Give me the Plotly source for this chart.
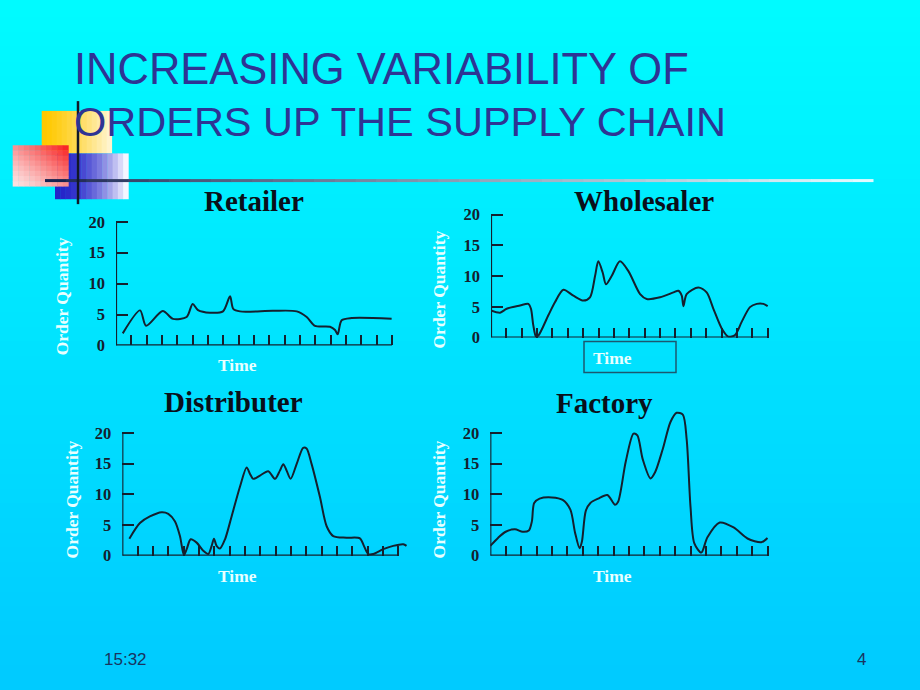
import plotly.graph_objects as go

W, H = 920, 690

# ---------------- data ----------------
retailer_t = [0.44, 1.57, 1.96, 3.05, 3.72, 4.61, 5.0, 5.35, 6.13, 6.98, 7.44, 7.65, 8.09,
              10.24, 11.79, 12.44, 12.98, 13.96, 14.29, 14.46, 14.72, 15.38, 17.98]
retailer_q = [1.95, 5.67, 3.17, 5.56, 4.29, 4.6, 6.71, 5.71, 5.29, 5.51, 7.94, 5.92, 5.51,
              5.6, 5.51, 4.6, 3.17, 3.02, 2.49, 1.79, 4.08, 4.44, 4.33]

wholesaler_t = [0.0, 0.59, 1.02, 1.89, 2.43, 2.6, 2.75, 2.93, 3.08, 3.73, 4.16, 4.71, 5.36,
                6.01, 6.44, 6.77, 6.98, 7.27, 7.48, 7.85, 8.39, 8.94, 9.7, 10.13, 11.0,
                11.87, 12.19, 12.41, 12.52, 12.73, 13.49, 14.03, 14.47, 15.01, 15.44,
                15.88, 16.31, 16.85, 17.29, 17.72, 18.0]
wholesaler_q = [4.41, 4.04, 4.68, 5.21, 5.48, 4.68, 2.02, 0.16, 0.32, 3.62, 5.74, 7.77, 6.81,
                6.01, 6.54, 10.0, 12.39, 10.53, 8.67, 10.0, 12.39, 10.8, 7.07, 6.28, 6.54,
                7.34, 7.61, 6.81, 5.11, 7.07, 8.14, 7.34, 4.68, 1.49, 0.16,
                0.43, 2.55, 4.95, 5.48, 5.48, 5.11]

distributer_t = [0.46, 1.15, 1.8, 2.57, 3.0, 3.43, 3.76, 4.02, 4.2, 4.46, 4.85, 5.28, 5.61,
                 5.83, 5.98, 6.15, 6.37, 6.7, 7.13, 7.67, 8.11, 8.33, 8.54, 8.98, 9.52,
                 9.96, 10.28, 10.5, 10.72, 10.98, 11.37, 11.8, 12.02, 12.35, 12.89, 13.33,
                 13.76, 14.63, 15.5, 15.76, 16.04, 16.37, 17.02, 17.67, 18.33, 18.54]
distributer_q = [2.77, 5.33, 6.4, 7.09, 6.83, 5.6, 3.2, 0.1, 1.07, 2.67, 2.13, 0.8, 0.27,
                 1.6, 2.77, 1.6, 1.17, 2.67, 6.4, 11.2, 14.4, 13.33, 12.53, 13.07, 13.76,
                 12.53, 13.87, 14.93, 13.87, 12.53, 14.93, 17.6, 17.49, 14.93, 9.6, 4.8,
                 3.2, 2.93, 2.83, 1.6, 0.27, 0.27, 1.07, 1.6, 1.87, 1.6]

factory_t = [0.0, 0.5, 1.0, 1.6, 2.1, 2.5, 2.7, 2.85, 3.2, 4.0, 4.7, 5.2, 5.5, 5.8, 5.95,
             6.2, 6.5, 7.0, 7.6, 8.1, 8.3, 8.8, 9.3, 9.55, 9.9, 10.4, 10.7, 11.2, 11.7,
             12.1, 12.5, 12.75, 13.0, 13.25, 13.7, 14.1, 14.9, 15.8, 16.7, 17.6, 18.0]
factory_q = [1.6, 2.9, 3.9, 4.3, 3.9, 4.1, 5.6, 8.6, 9.3, 9.5, 9.1, 7.5, 3.8, 1.2, 2.3,
             7.3, 8.6, 9.3, 9.9, 8.3, 8.8, 15.4, 19.9, 19.6, 15.7, 12.6, 13.6, 17.4, 21.8,
             23.3, 23.0, 19.0, 8.0, 2.0, 0.5, 3.0, 5.4, 4.6, 2.8, 2.2, 2.9]

panel_names = ["Retailer", "Wholesaler", "Distributer", "Factory"]
y_tick_values = [0, 5, 10, 15, 20]
time_ticks = list(range(1, 19))

# ---------------- layout helpers ----------------
def px(x):
    return x / W

def py(y):
    return 1 - y / H

INK = "#15202e"
LABEL_LIGHT = "#e8ffff"
SERIF = "Liberation Serif"

panels = [
    dict(t=retailer_t, q=retailer_q, x0=116, ux=15.33, y0=349, uy=6.3, ymax=21,
         title=(254, 201.5), time=(237, 369), oq=(62, 299)),
    dict(t=wholesaler_t, q=wholesaler_q, x0=491, ux=15.37, y0=341, uy=6.27, ymax=21,
         title=(644, 201.3), time=(612.5, 361.5), oq=(439, 292)),
    dict(t=distributer_t, q=distributer_q, x0=122.3, ux=15.33, y0=563.3, uy=6.25, ymax=21,
         title=(234, 407), time=(237, 584), oq=(72, 506)),
    dict(t=factory_t, q=factory_q, x0=490.3, ux=15.4, y0=563.3, uy=6.25, ymax=24.5,
         title=(604, 408), time=(612.5, 584), oq=(439, 506)),
]
XMAX = 18.7

fig = go.Figure()
shapes = []
annotations = []
layout_axes = {}

# ---------------- background gradient ----------------
top = (0, 252, 255)
bot = (0, 202, 255)
n_bands = 46
band = H / n_bands
for i in range(n_bands):
    f = (i + 0.5) / n_bands
    c = tuple(round(top[k] + (bot[k] - top[k]) * f) for k in range(3))
    y_a = -30 if i == 0 else i * band - 0.5
    y_b = H + 30 if i == n_bands - 1 else (i + 1) * band + 0.5
    shapes.append(dict(type="rect", xref="paper", yref="paper", layer="below",
                       x0=-0.05, x1=1.05, y0=py(y_a), y1=py(y_b),
                       line=dict(width=0), fillcolor="rgb(%d,%d,%d)" % c))

# ---------------- panels ----------------
for i, (name, p) in enumerate(zip(panel_names, panels), start=1):
    xa = "x" if i == 1 else "x%d" % i
    ya = "y" if i == 1 else "y%d" % i
    layout_axes["xaxis" if i == 1 else "xaxis%d" % i] = dict(
        domain=[px(p["x0"]), px(p["x0"] + XMAX * p["ux"])],
        range=[0, XMAX], anchor=ya, showgrid=False, zeroline=False, showline=False,
        ticks="inside", tickvals=time_ticks, ticklen=10, tickwidth=2, tickcolor=INK,
        showticklabels=False, fixedrange=True)
    layout_axes["yaxis" if i == 1 else "yaxis%d" % i] = dict(
        domain=[py(p["y0"]), py(p["y0"] - p["ymax"] * p["uy"])],
        range=[0, p["ymax"]], anchor=xa, showgrid=False, zeroline=False, showline=False,
        ticks="inside", tickvals=y_tick_values, ticklen=12, tickwidth=2, tickcolor=INK,
        ticklabelstandoff=10,
        tickfont=dict(family=SERIF, size=16.5, color=INK, weight="bold"), fixedrange=True)

    fig.add_trace(go.Scatter(x=p["t"], y=p["q"], mode="lines", xaxis=xa, yaxis=ya,
                             line=dict(shape="spline", smoothing=0.8, color=INK, width=2),
                             hoverinfo="skip", showlegend=False))
    # axis lines (stop at the last tick / at 20)
    shapes.append(dict(type="line", xref=xa, yref=ya, x0=0, x1=18, y0=0, y1=0,
                       line=dict(color=INK, width=2.2)))
    shapes.append(dict(type="line", xref=xa, yref=ya, x0=0, x1=0, y0=0, y1=20,
                       line=dict(color=INK, width=2.2)))

    tx, ty = p["title"]
    annotations.append(dict(text=name, x=px(tx), y=py(ty), xref="paper", yref="paper",
                            xanchor="center", yanchor="middle", showarrow=False,
                            font=dict(family=SERIF, size=29, color="#0a0f1a", weight="bold")))
    tx, ty = p["time"]
    annotations.append(dict(text="Time", x=px(tx), y=py(ty), xref="paper", yref="paper",
                            xanchor="center", yanchor="middle", showarrow=False,
                            font=dict(family=SERIF, size=17.5, color=LABEL_LIGHT, weight="bold")))
    tx, ty = p["oq"]
    annotations.append(dict(text="Order Quantity", x=px(tx), y=py(ty), xref="paper",
                            yref="paper", xanchor="center", yanchor="middle", showarrow=False,
                            textangle=-90,
                            font=dict(family=SERIF, size=17.5, color=LABEL_LIGHT, weight="bold")))

# box around the wholesaler "Time" label
shapes.append(dict(type="rect", xref="paper", yref="paper", x0=px(584), x1=px(676),
                   y0=py(376.7), y1=py(345), line=dict(color="#1c5870", width=1.5),
                   fillcolor="rgba(0,0,0,0)"))

# ---------------- slide decoration ----------------
def lerp(a, b, f):
    return tuple(round(a[k] + (b[k] - a[k]) * f) for k in range(3))

def rgb(c):
    return "rgb(%d,%d,%d)" % c

# yellow square (horizontal fade)
n = 14
for k in range(n):
    f = k / (n - 1)
    xa0 = 41.7 + (111.7 - 41.7) * k / n
    xa1 = 41.7 + (111.7 - 41.7) * (k + 1) / n
    c = lerp((255, 200, 0), (255, 244, 205), f ** 1.3)
    shapes.append(dict(type="rect", xref="paper", yref="paper", x0=px(xa0), x1=px(xa1 + 0.4),
                       y0=py(153.3), y1=py(110), line=dict(width=0), fillcolor=rgb(c)))
# blue square (horizontal fade)
for k in range(n):
    f = k / (n - 1)
    xa0 = 55 + (128.3 - 55) * k / n
    xa1 = 55 + (128.3 - 55) * (k + 1) / n
    c = lerp((36, 36, 200), (245, 245, 255), f ** 1.8)
    shapes.append(dict(type="rect", xref="paper", yref="paper", x0=px(xa0), x1=px(xa1 + 0.4),
                       y0=py(200), y1=py(153.3), line=dict(width=0), fillcolor=rgb(c)))
# pink square (diagonal fade: red top-right, pale bottom-left)
nx, ny = 10, 8
for a in range(nx):
    for b in range(ny):
        fx = (a + 0.5) / nx
        fy = 1 - (b + 0.5) / ny
        f = min(1.0, (fx + fy) / 2)
        c = lerp((252, 228, 228), (248, 24, 24), f ** 1.3)
        xa0 = 12.7 + (68.3 - 12.7) * a / nx
        xa1 = 12.7 + (68.3 - 12.7) * (a + 1) / nx
        ya0 = 145 + (186.7 - 145) * b / ny
        ya1 = 145 + (186.7 - 145) * (b + 1) / ny
        shapes.append(dict(type="rect", xref="paper", yref="paper", x0=px(xa0),
                           x1=px(xa1 + 0.4), y0=py(ya1 + 0.4), y1=py(ya0),
                           line=dict(width=0), fillcolor=rgb(c)))
# horizontal rule (dark to light)
nseg = 40
for k in range(nseg):
    f = k / (nseg - 1)
    xs0 = 45 + (873 - 45) * k / nseg
    xs1 = 45 + (873 - 45) * (k + 1) / nseg
    c = lerp((25, 35, 80), (225, 250, 255), f ** 0.8)
    shapes.append(dict(type="line", xref="paper", yref="paper", x0=px(xs0), x1=px(xs1 + 0.5),
                       y0=py(181), y1=py(181), line=dict(color=rgb(c), width=3)))
# vertical rule
shapes.append(dict(type="line", xref="paper", yref="paper", x0=px(78), x1=px(78),
                   y0=py(100), y1=py(205), line=dict(color="#101828", width=2.5)))

# ---------------- slide title and footer ----------------
annotations.append(dict(text="INCREASING VARIABILITY OF", x=px(72), y=py(67.5),
                        xref="paper", yref="paper", xanchor="left", yanchor="middle",
                        showarrow=False,
                        font=dict(family="Liberation Sans", size=43.5, color="#2e3494")))
annotations.append(dict(text="ORDERS UP THE SUPPLY CHAIN", x=px(72), y=py(121),
                        xref="paper", yref="paper", xanchor="left", yanchor="middle",
                        showarrow=False,
                        font=dict(family="Liberation Sans", size=41.5, color="#2e3494")))
FOOT_FONT = dict(family="Liberation Sans", size=17, color="#1a3460")
annotations.append(dict(text="15:32", x=px(125), y=py(669.5), xref="paper", yref="paper",
                        xanchor="center", yanchor="middle", showarrow=False, font=FOOT_FONT))
annotations.append(dict(text="4", x=px(861), y=py(669.5), xref="paper", yref="paper",
                        xanchor="center", yanchor="middle", showarrow=False, font=FOOT_FONT))

fig.update_layout(width=W, height=H, margin=dict(l=0, r=0, t=0, b=0),
                  paper_bgcolor="#00d8ff", plot_bgcolor="rgba(0,0,0,0)",
                  showlegend=False, shapes=shapes, annotations=annotations, **layout_axes)

fig.write_html("out.html", include_plotlyjs=True, config=dict(displayModeBar=False))
